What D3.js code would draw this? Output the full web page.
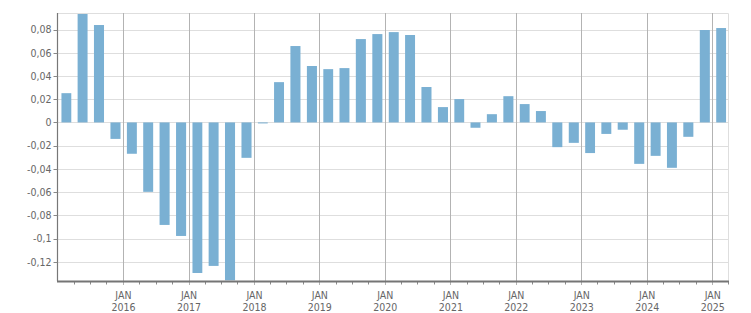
<!DOCTYPE html>
<html>
<head>
<meta charset="utf-8">
<script src="https://cdn.jsdelivr.net/npm/d3@7"></script>
<style>
  html, body { margin: 0; padding: 0; background: #fff; }
  svg { display: block; }
  text { font-family: "DejaVu Sans Condensed", "DejaVu Sans", sans-serif; font-size: 10.5px; fill: #666; }
</style>
</head>
<body>
<svg id="chart" width="751" height="313"></svg>
<script>
// ---- Data ----
const quarters = [
  "2015-01-01","2015-04-01","2015-07-01","2015-10-01",
  "2016-01-01","2016-04-01","2016-07-01","2016-10-01",
  "2017-01-01","2017-04-01","2017-07-01","2017-10-01",
  "2018-01-01","2018-04-01","2018-07-01","2018-10-01",
  "2019-01-01","2019-04-01","2019-07-01","2019-10-01",
  "2020-01-01","2020-04-01","2020-07-01","2020-10-01",
  "2021-01-01","2021-04-01","2021-07-01","2021-10-01",
  "2022-01-01","2022-04-01","2022-07-01","2022-10-01",
  "2023-01-01","2023-04-01","2023-07-01","2023-10-01",
  "2024-01-01","2024-04-01","2024-07-01","2024-10-01",
  "2025-01-01"
];
const values = [
  0.0252, 0.0934, 0.0839, -0.0142,
  -0.0270, -0.0598, -0.0883, -0.0978,
  -0.1297, -0.1236, -0.1360, -0.0305,
  -0.0008, 0.0347, 0.0658, 0.0486,
  0.0459, 0.0468, 0.0718, 0.0761,
  0.0778, 0.0753, 0.0305, 0.0132,
  0.0201, -0.0046, 0.0071, 0.0226,
  0.0158, 0.0098, -0.0213, -0.0176,
  -0.0264, -0.0099, -0.0063, -0.0357,
  -0.0288, -0.0391, -0.0124, 0.0796,
  0.0813
];
const yTicks = [-0.12, -0.10, -0.08, -0.06, -0.04, -0.02, 0, 0.02, 0.04, 0.06, 0.08];
const xTickYears = ["2016","2017","2018","2019","2020","2021","2022","2023","2024","2025"];
const xTickMonth = "JAN";
const xDomain = ["2015-01-01", "2025-04-01"];
const yDomain = [-0.1366, 0.0940];

// ---- Setup ----
const parse = d3.utcParse("%Y-%m-%d");
const svg = d3.select("#chart");
const pLeft = 57.5, pRight = 728.4, pTop = 13.3, pBottom = 281;

const x = d3.scaleUtc().domain(xDomain.map(parse)).range([pLeft, pRight]);
const y = d3.scaleLinear().domain(yDomain).range([pBottom, pTop]);

const locale = d3.formatLocale({decimal: ",", thousands: ".", grouping: [3], currency: ["", ""], minus: "-"});
const fmt = locale.format("~f");

const data = quarters.map((q, i) => {
  const start = parse(q);
  const end = d3.utcMonth.offset(start, 3);
  return {start, end, value: values[i]};
});

// horizontal gridlines
svg.append("g")
  .selectAll("line")
  .data(yTicks.concat([yDomain[1]]))
  .join("line")
  .attr("x1", pLeft).attr("x2", pRight)
  .attr("y1", d => Math.round(y(d)) + 0.5).attr("y2", d => Math.round(y(d)) + 0.5)
  .attr("stroke", "#dedede").attr("stroke-width", 1);

// right border
svg.append("line")
  .attr("x1", Math.round(pRight) + 0.5).attr("x2", Math.round(pRight) + 0.5)
  .attr("y1", Math.round(pTop) + 0.5).attr("y2", pBottom)
  .attr("stroke", "#dedede");

// yearly vertical gridlines (extend below axis as ticks)
const yearDates = xTickYears.map(yr => parse(yr + "-01-01"));
svg.append("g")
  .selectAll("line")
  .data(yearDates)
  .join("line")
  .attr("x1", d => Math.round(x(d)) + 0.5).attr("x2", d => Math.round(x(d)) + 0.5)
  .attr("y1", Math.round(pTop)).attr("y2", pBottom + 4)
  .attr("stroke", "#b3b3b3").attr("stroke-width", 1);

// bars
svg.append("g")
  .selectAll("rect")
  .data(data)
  .join("rect")
  .attr("x", d => {
    const x0 = x(d.start), x1 = x(d.end);
    const w = (x1 - x0) * 0.61;
    return (x0 + x1) / 2 + 0.8 - w / 2;
  })
  .attr("width", d => (x(d.end) - x(d.start)) * 0.61)
  .attr("y", d => Math.min(y(d.value), y(0)))
  .attr("height", d => Math.max(1, Math.abs(y(d.value) - y(0))))
  .attr("fill", "#7ab0d3");

// minor quarter ticks on the x axis
const quarterTicks = x.ticks(d3.utcMonth.every(3)).filter(d => d.getUTCMonth() !== 0);
svg.append("g")
  .selectAll("line")
  .data(quarterTicks)
  .join("line")
  .attr("x1", d => Math.round(x(d)) + 0.5).attr("x2", d => Math.round(x(d)) + 0.5)
  .attr("y1", pBottom).attr("y2", pBottom + 3.5)
  .attr("stroke", "#8a8a8a");

// x axis line
svg.append("line")
  .attr("x1", pLeft - 0.5).attr("x2", pRight + 0.5)
  .attr("y1", pBottom + 0.5).attr("y2", pBottom + 0.5)
  .attr("stroke", "#757575").attr("stroke-width", 2);

// y axis line
svg.append("line")
  .attr("x1", pLeft).attr("x2", pLeft)
  .attr("y1", Math.round(pTop)).attr("y2", pBottom)
  .attr("stroke", "#777").attr("stroke-width", 1.2);

// y ticks and labels
const yg = svg.append("g");
yg.selectAll("line")
  .data(yTicks)
  .join("line")
  .attr("x1", pLeft - 4).attr("x2", pLeft)
  .attr("y1", d => Math.round(y(d)) + 0.5).attr("y2", d => Math.round(y(d)) + 0.5)
  .attr("stroke", "#888");
yg.selectAll("text")
  .data(yTicks)
  .join("text")
  .attr("x", 51.5)
  .attr("y", d => y(d))
  .attr("dy", "0.36em")
  .attr("text-anchor", "end")
  .text(d => fmt(d));

// x labels
const xg = svg.append("g");
xg.selectAll("text.m")
  .data(yearDates)
  .join("text")
  .attr("class", "m")
  .attr("x", d => x(d) + 0.5)
  .attr("y", 298.5)
  .attr("text-anchor", "middle")
  .text(xTickMonth);
xg.selectAll("text.yr")
  .data(yearDates)
  .join("text")
  .attr("class", "yr")
  .attr("x", d => x(d) + 0.5)
  .attr("y", 311)
  .attr("text-anchor", "middle")
  .text((d, i) => xTickYears[i]);
</script>
</body>
</html>
